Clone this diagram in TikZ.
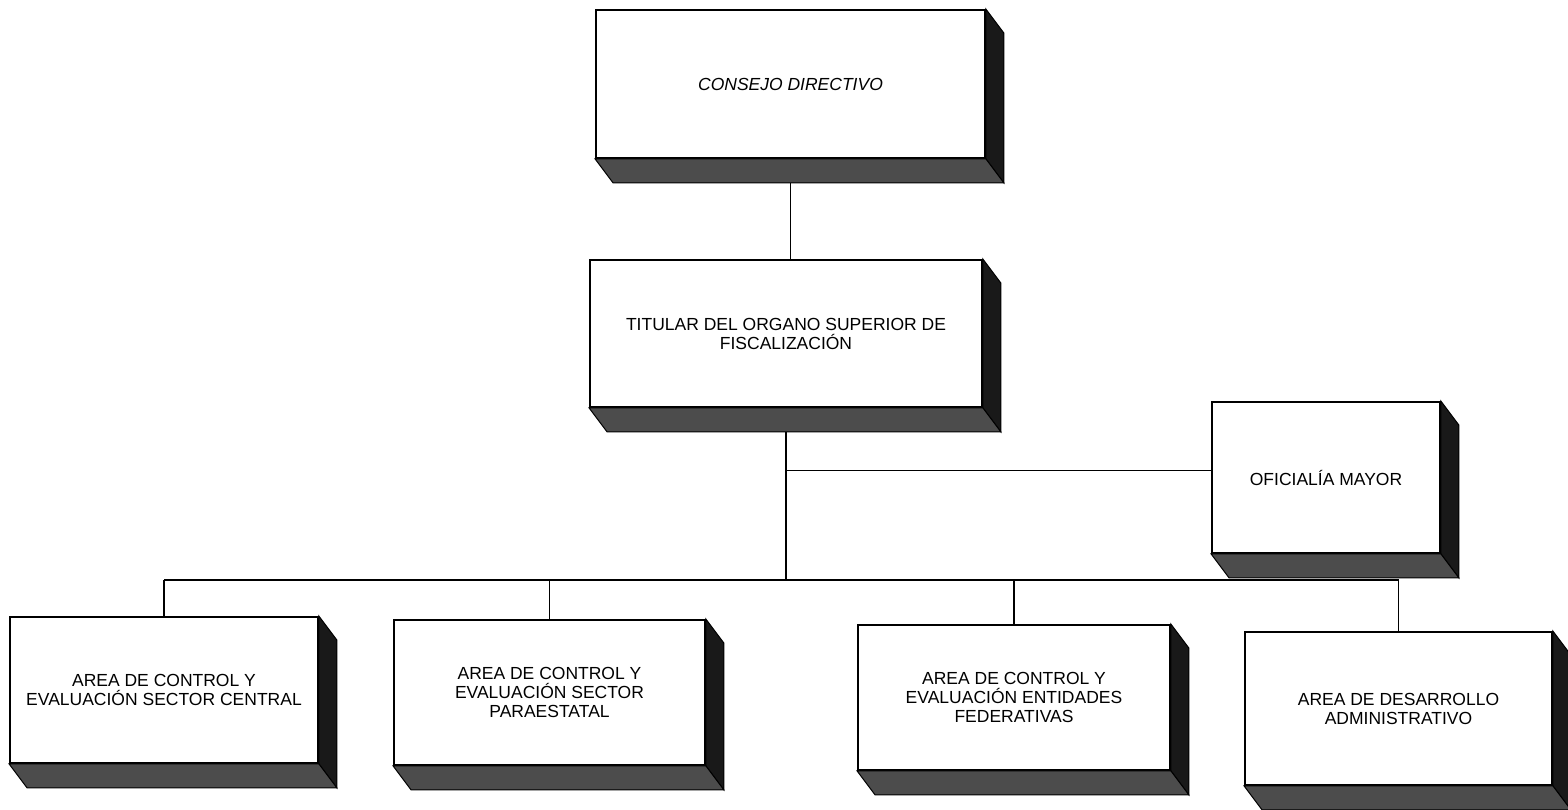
\documentclass[tikz,border=0pt]{standalone}
\usepackage{fontspec}
\setmainfont{Liberation Sans}
\usetikzlibrary{backgrounds}

\begin{document}
\begin{tikzpicture}[x=1pt, y=-1pt,
    caja/.style={draw, line width=1.8pt, fill=white, align=center, inner sep=2pt, font=\fontsize{17.5}{19}\selectfont},
    lado/.style={fill=black!90, draw=black, line width=1pt},
    fondo/.style={fill=black!70, draw=black, line width=1pt},
    linea/.style={line width=1.7pt}]
    \useasboundingbox (0,0) rectangle (1568,809);
    % cajas
    \node[caja, minimum width=389pt, minimum height=148pt, font=\fontsize{17.5}{19}\selectfont\itshape] (consejo) at (790.5,84) {CONSEJO DIRECTIVO};
    \node[caja, minimum width=392pt, minimum height=147pt] (titular) at (786,333.5) {TITULAR DEL ORGANO SUPERIOR DE\\FISCALIZACIÓN};
    \node[caja, minimum width=228pt, minimum height=151pt] (oficialia) at (1326,477.5) {OFICIALÍA MAYOR};
    \node[caja, minimum width=308pt, minimum height=146pt] (central) at (164,690) {AREA DE CONTROL Y\\EVALUACIÓN SECTOR CENTRAL};
    \node[caja, minimum width=311pt, minimum height=145pt] (paraestatal) at (549.5,692.5) {AREA DE CONTROL Y\\EVALUACIÓN SECTOR\\PARAESTATAL};
    \node[caja, minimum width=312pt, minimum height=145pt] (federativas) at (1014,697.5) {AREA DE CONTROL Y\\EVALUACIÓN ENTIDADES\\FEDERATIVAS};
    \node[caja, minimum width=307pt, minimum height=153pt] (desarrollo) at (1398.5,708.5) {AREA DE DESARROLLO\\ADMINISTRATIVO};
    % relieve
    \foreach \n in {consejo,titular,oficialia,central,paraestatal,federativas,desarrollo} {
        \filldraw[lado] (\n.north east) -- ([shift={(18,24)}]\n.north east) -- ([shift={(18,24)}]\n.south east) -- (\n.south east) -- cycle;
        \filldraw[fondo] (\n.south west) -- (\n.south east) -- ([shift={(18,24)}]\n.south east) -- ([shift={(18,24)}]\n.south west) -- cycle;
    }
    % lineas
    \coordinate (bus) at (0,580);
    \begin{pgfonlayer}{background}
        \draw[linea] (consejo.south) -- (consejo.south |- titular.north);
        \draw[linea] (titular.south) -- (titular.south |- bus);
        \draw[linea] ([yshift=7pt]oficialia.west) -- ([yshift=7pt]oficialia.west -| titular.south);
        \draw[linea] (central.north |- bus) -- (desarrollo.north |- bus);
        \foreach \n in {central,paraestatal,federativas,desarrollo}
            \draw[linea] (\n.north) -- (\n.north |- bus);
    \end{pgfonlayer}
\end{tikzpicture}
\end{document}
